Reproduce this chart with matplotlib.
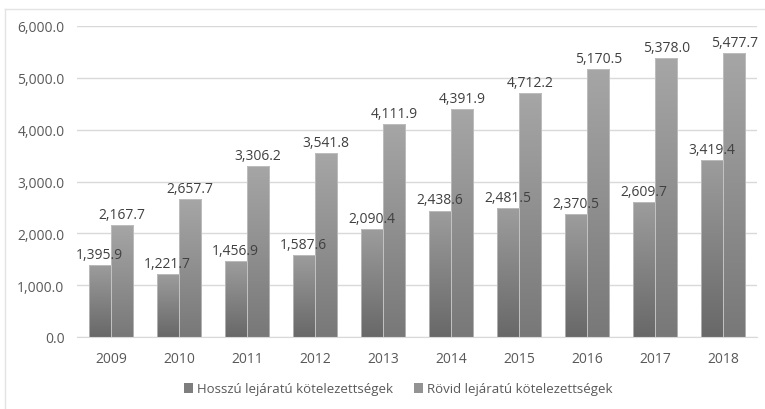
import numpy as np
import matplotlib
matplotlib.use("Agg")
import matplotlib.pyplot as plt
from matplotlib.colors import LinearSegmentedColormap
from matplotlib.lines import Line2D
from matplotlib.patches import Patch

# adatok
years = ["2009", "2010", "2011", "2012", "2013", "2014", "2015", "2016", "2017", "2018"]
hosszu = [1395.9, 1221.7, 1456.9, 1587.6, 2090.4, 2438.6, 2481.5, 2370.5, 2609.7, 3419.4]
rovid = [2167.7, 2657.7, 3306.2, 3541.8, 4111.9, 4391.9, 4712.2, 5170.5, 5378.0, 5477.7]
series_names = ["Hosszú lejáratú kötelezettségek", "Rövid lejáratú kötelezettségek"]

plt.rcParams["font.family"] = ["Open Sans", "DejaVu Sans"]
text_col = "#595959"

fig = plt.figure(figsize=(7.65, 4.10), dpi=100)
ax = fig.add_axes([77 / 765, 1 - 338 / 410, 680 / 765, 311 / 410])

# keret (bal és felső oldal látszik)
fig.add_artist(Line2D([5 / 765, 5 / 765], [0, 1 - 10 / 410], color="#e3e3e3", lw=1))
fig.add_artist(Line2D([5 / 765, 1], [1 - 10 / 410, 1 - 10 / 410], color="#e3e3e3", lw=1))

x = np.arange(len(years))
w = 0.33

# szürke színátmenet (alul sötétebb)
cmap_h = LinearSegmentedColormap.from_list("h", ["#686868", "#9d9d9d"])
cmap_r = LinearSegmentedColormap.from_list("r", ["#787878", "#a6a6a6"])
grad = np.linspace(0, 1, 256).reshape(-1, 1)


def gradient_bars(bars, cmap):
    for b in bars:
        x0, y0 = b.get_x(), b.get_y()
        x1, y1 = x0 + b.get_width(), y0 + b.get_height()
        im = ax.imshow(grad, cmap=cmap, origin="lower", aspect="auto",
                       extent=[x0, x1, y0, y1], zorder=2)
        im.set_clip_path(b)


bh = ax.bar(x - w / 2, hosszu, w, color="none", edgecolor="#c8c8c8", lw=0.5, zorder=3)
br = ax.bar(x + w / 2, rovid, w, color="none", edgecolor="#c8c8c8", lw=0.5, zorder=3)
gradient_bars(bh, cmap_h)
gradient_bars(br, cmap_r)

for xs, vals in ((x - w / 2, hosszu), (x + w / 2, rovid)):
    for xi, v in zip(xs, vals):
        ax.text(xi, v + 60, f"{v:,.1f}", ha="center", va="bottom",
                fontsize=10, color="#404040", zorder=4)

ax.set_xlim(-0.5, len(years) - 0.5)
ax.set_ylim(0, 6000)
ax.set_yticks(np.arange(0, 6001, 1000))
ax.set_yticklabels([f"{v:,.1f}" for v in np.arange(0, 6001, 1000)])
ax.set_xticks(x)
ax.set_xticklabels(years)
ax.tick_params(axis="both", length=0, labelsize=10, colors=text_col)
ax.tick_params(axis="y", pad=9)
ax.tick_params(axis="x", pad=10)
ax.grid(axis="y", color="#d9d9d9", lw=1, zorder=0)
ax.set_axisbelow(True)
for s in ("top", "right", "left"):
    ax.spines[s].set_visible(False)
ax.spines["bottom"].set_color("#d9d9d9")

handles = [Patch(facecolor="#7e7e7e", edgecolor="none"),
           Patch(facecolor="#939393", edgecolor="none")]
fig.legend(handles, series_names, loc="center", bbox_to_anchor=(398 / 765, 1 - 390 / 410),
           ncol=2, frameon=False, fontsize=9.5, labelcolor=text_col,
           handlelength=0.7, handleheight=0.7, handletextpad=0.3, columnspacing=1.6)

fig.savefig("out.png", dpi=100)
